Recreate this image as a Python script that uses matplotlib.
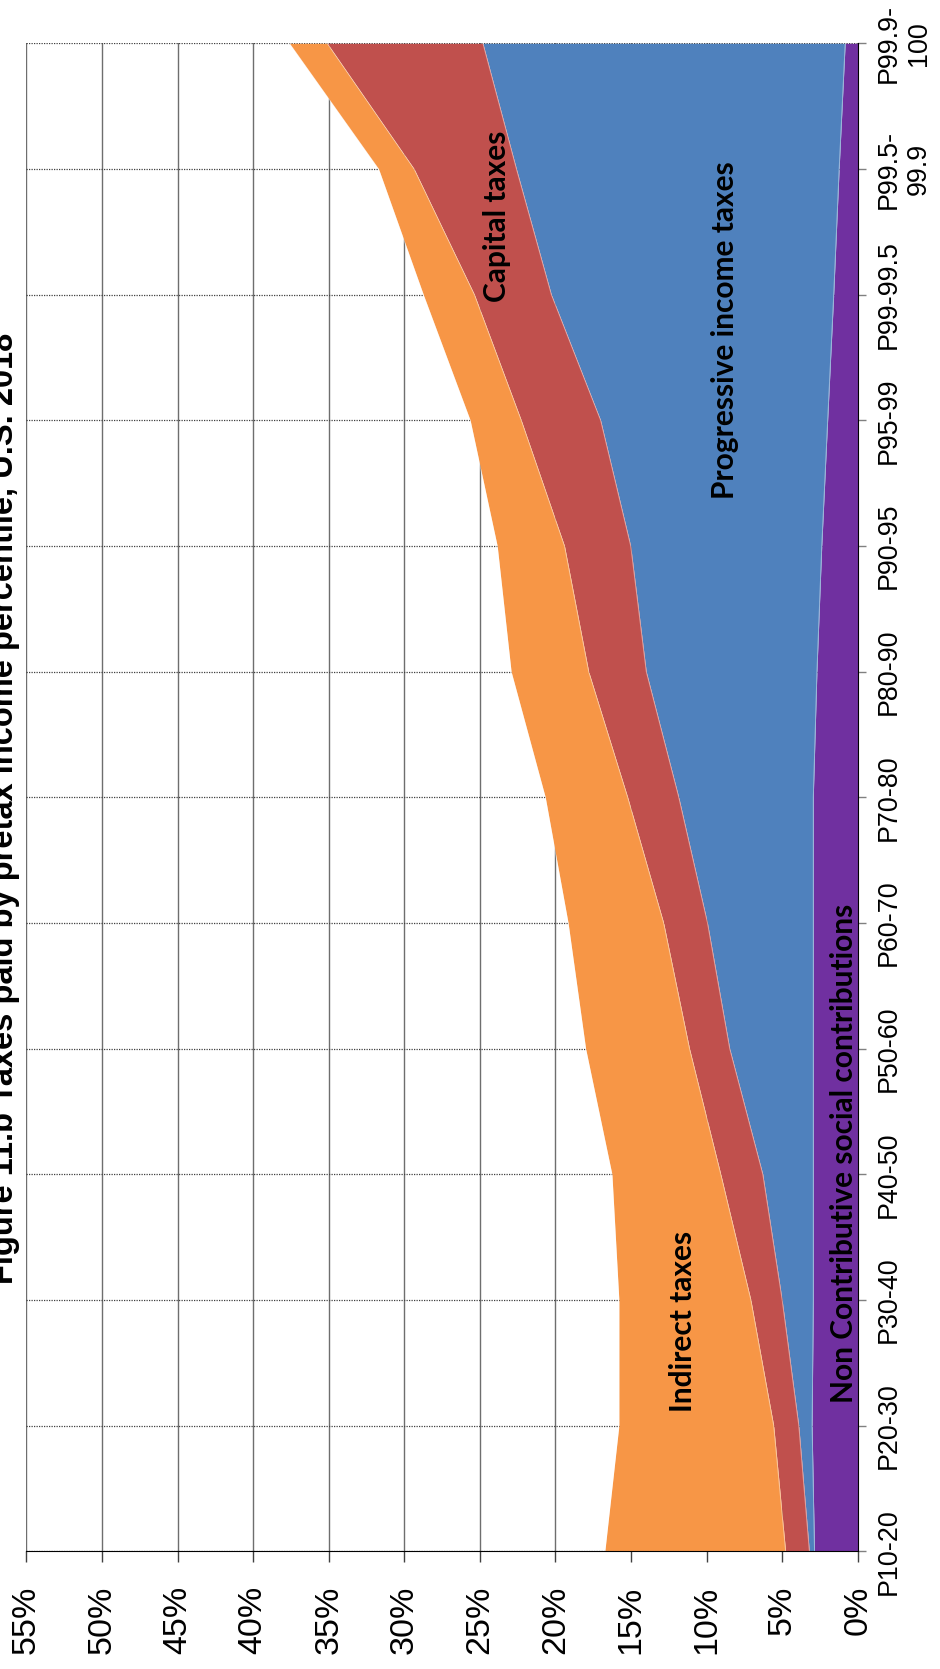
import matplotlib
matplotlib.use("Agg")
import matplotlib.pyplot as plt
import numpy as np

# ---- data (shares of pretax income, %) ----
categories = ["P10-20", "P20-30", "P30-40", "P40-50", "P50-60", "P60-70",
              "P70-80", "P80-90", "P90-95", "P95-99", "P99-99.5",
              "P99.5-\n99.9", "P99.9-\n100"]
non_contrib_social = [2.86, 3.02, 2.94, 2.94, 2.94, 2.94, 2.94, 2.70, 2.38, 1.99, 1.59, 1.23, 0.83]
progressive_income = [0.34, 0.88, 2.06, 3.34, 5.53, 7.00, 8.90, 11.29, 12.64, 15.02, 18.68, 21.35, 23.97]
capital_taxes = [1.57, 1.66, 2.07, 2.78, 2.66, 2.90, 3.38, 3.81, 4.38, 5.25, 5.09, 6.77, 10.30]
indirect_taxes = [11.96, 10.24, 8.73, 7.20, 6.87, 6.32, 5.45, 5.13, 4.45, 3.38, 3.38, 2.35, 2.50]
pct_ticks = [0, 5, 10, 15, 20, 25, 30, 35, 40, 45, 50, 55]
title = "Figure 11.b Taxes paid by pretax income percentile, U.S. 2018"

series = [non_contrib_social, progressive_income, capital_taxes, indirect_taxes]
colors = ["#7030A0", "#4F81BD", "#C0504D", "#F79646"]

W, H = 940, 1669
fig = plt.figure(figsize=(W / 100, H / 100), dpi=100)
left, right, top, bottom = 26.4, 857.7, 43.3, 1551.3
ax = fig.add_axes([left / W, (H - bottom) / H, (right - left) / W, (bottom - top) / H])

y = np.arange(len(categories))
base = np.zeros(len(categories))
for vals, c in zip(series, colors):
    upper = base + np.array(vals)
    ax.fill_betweenx(y, base, upper, color=c, lw=0, zorder=2)
    ax.plot(upper, y, color="white", lw=0.6, alpha=0.45, zorder=2.5)
    base = upper

ax.set_xlim(55, 0)
ax.set_ylim(0, len(categories) - 1)

# gridlines
for p in pct_ticks:
    ax.axvline(p, color="#6e6e6e", lw=1.0, zorder=1)
for yy in y:
    ax.axhline(yy, color="#404040", lw=0.9, ls=(0, (1, 1)), zorder=1)

for s in ["left", "top"]:
    ax.spines[s].set_visible(False)
ax.spines["bottom"].set_color("black")
ax.spines["right"].set_color("black")
ax.spines["bottom"].set_zorder(3)
ax.spines["right"].set_zorder(3)

# value axis (bottom)
ax.set_xticks(pct_ticks)
ax.set_xticklabels([f"{p}%" for p in pct_ticks], rotation=90, ha="center", va="top",
                   fontsize=24.5, family="Liberation Sans")
ax.tick_params(axis="x", length=8, width=1, color="#404040", pad=17, direction="out")

# category axis (right)
ax.yaxis.tick_right()
ax.set_yticks(y)
ax.set_yticklabels(categories, rotation=90, va="center", ha="left", multialignment="center",
                   fontsize=19.4, family="Liberation Sans")
ax.tick_params(axis="y", length=6, width=1, color="#808080", pad=7, direction="out")

# in-chart labels
lab_kw = dict(rotation=90, ha="center", va="center", fontsize=21.5, fontweight="bold",
              family="Lato", color="black", zorder=5)
ax.text(11.56, 1.83, "Indirect taxes", **lab_kw)
ax.text(0.9, 3.17, "Non Contributive social contributions", **lab_kw)
ax.text(23.86, 10.62, "Capital taxes", **lab_kw)
ax.text(8.78, 9.72, "Progressive income taxes", **lab_kw)

# title, rotated and partially off-canvas as in reference
fig.text(20 / W, 1 - 808 / H, title, rotation=90, ha="right", va="center",
         fontsize=23.5, fontweight="bold", family="Liberation Sans")

fig.savefig("out.png", dpi=100)
